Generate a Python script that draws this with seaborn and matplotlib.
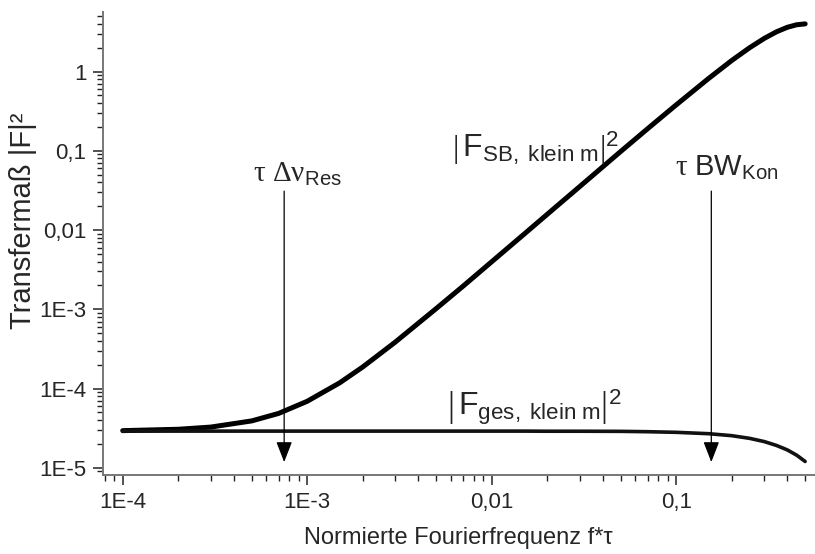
import numpy as np
import pandas as pd
import matplotlib
matplotlib.use('Agg')
import matplotlib.pyplot as plt
from matplotlib.ticker import LogLocator, NullFormatter
import seaborn as sns

# normalised Fourier frequency f*tau
freq = [1e-4, 2e-4, 3e-4, 5e-4, 7e-4, 1e-3, 1.5e-3, 2e-3, 3e-3, 5e-3, 7e-3,
        0.01, 0.015, 0.02, 0.03, 0.05, 0.07, 0.1, 0.15, 0.2, 0.25, 0.3,
        0.35, 0.4, 0.45, 0.5]

# |F_SB, klein m|^2
f_sb = [2.94e-5, 3.06e-5, 3.26e-5, 3.9e-5, 4.85e-5, 6.9e-5, 1.18e-4, 1.87e-4,
        3.85e-4, 1.02e-3, 1.96e-3, 3.98e-3, 8.9e-3, 0.0158, 0.0354, 0.098,
        0.19, 0.38, 0.82, 1.38, 2.0, 2.62, 3.18, 3.62, 3.9, 4.0]

# |F_ges, klein m|^2
f_ges = [2.9e-5, 2.9e-5, 2.9e-5, 2.9e-5, 2.9e-5, 2.9e-5, 2.9e-5, 2.9e-5,
         2.9e-5, 2.9e-5, 2.9e-5, 2.9e-5, 2.9e-5, 2.89e-5, 2.89e-5, 2.88e-5,
         2.85e-5, 2.8e-5, 2.69e-5, 2.54e-5, 2.35e-5, 2.14e-5, 1.91e-5,
         1.68e-5, 1.44e-5, 1.2e-5]

# arrow markers: tau*dnu_Res and tau*BW_Kon
arrow_f = [7.5e-4, 0.155]

x_ticks = [1e-4, 1e-3, 1e-2, 1e-1]
x_labels = ['1E-4', '1E-3', '0,01', '0,1']
y_ticks = [1e-5, 1e-4, 1e-3, 1e-2, 1e-1, 1]
y_labels = ['1E-5', '1E-4', '1E-3', '0,01', '0,1', '1']

df = pd.DataFrame({'f': freq, 'sb': f_sb, 'ges': f_ges})

sns.set_theme(style='ticks')
plt.rcParams['font.family'] = ['Liberation Sans', 'DejaVu Sans']
plt.rcParams['mathtext.fontset'] = 'custom'
plt.rcParams['mathtext.rm'] = 'Liberation Serif'
plt.rcParams['mathtext.it'] = 'Liberation Serif'
plt.rcParams['mathtext.sf'] = 'Liberation Sans'

fig = plt.figure(figsize=(8.15, 5.54), dpi=100)
ax = fig.add_axes([0.1264, 0.1426, 0.873, 0.8363])

sns.lineplot(data=df, x='f', y='sb', ax=ax, color='black', lw=3.6)
sns.lineplot(data=df, x='f', y='ges', ax=ax, color='#111111', lw=2.6)

ax.set_xscale('log')
ax.set_yscale('log')
ax.set_xlim(7.82e-5, 0.562)
ax.set_ylim(8.1e-6, 5.7)

ax.set_xticks(x_ticks, x_labels)
ax.set_yticks(y_ticks, y_labels)
ax.xaxis.set_minor_locator(LogLocator(base=10, subs=np.arange(2, 10), numticks=30))
ax.yaxis.set_minor_locator(LogLocator(base=10, subs=np.arange(2, 10), numticks=30))
ax.xaxis.set_minor_formatter(NullFormatter())
ax.yaxis.set_minor_formatter(NullFormatter())
ax.tick_params(which='major', length=7, width=1.1, color='#222222', labelsize=16, pad=5)
ax.tick_params(which='minor', length=4, width=1.0, color='#222222')

sns.despine(ax=ax)
for s in ['left', 'bottom']:
    ax.spines[s].set_color('#777777')
    ax.spines[s].set_linewidth(1.4)

ax.set_xlabel('Normierte Fourierfrequenz f*τ', fontsize=17, labelpad=10)
ax.set_ylabel('Transfermaß |F|²', fontsize=21)
ax.yaxis.set_label_coords(-0.093, 0.548)

# vertical arrows
for fx in arrow_f:
    ax.annotate('', xy=(fx, 1.18e-5), xytext=(fx, 0.031),
                arrowprops=dict(arrowstyle='-|>,head_length=0.9,head_width=0.35',
                                mutation_scale=14, color='black', lw=0.9,
                                shrinkA=0, shrinkB=0))

ax.text(5.08e-4, 0.034, r'$\mathrm{\tau\ \Delta\nu}_{\mathsf{Res}}$', fontsize=21,
        ha='left', va='bottom')
ax.text(0.098, 0.040, r'$\mathrm{\tau}\ \mathsf{BW}_{\mathsf{Kon}}$', fontsize=21,
        ha='left', va='bottom')

ax.text(6.1e-3, 0.063, r'$\left|\,\mathsf{F}_{\mathsf{SB,\ klein\ m}}\right|^{\mathsf{2}}$',
        fontsize=23, ha='left', va='bottom')
ax.text(5.73e-3, 3.24e-5, r'$\left|\,\mathsf{F}_{\mathsf{ges,\ klein\ m}}\right|^{\mathsf{2}}$',
        fontsize=23, ha='left', va='bottom')

fig.savefig('out.png', dpi=100)
